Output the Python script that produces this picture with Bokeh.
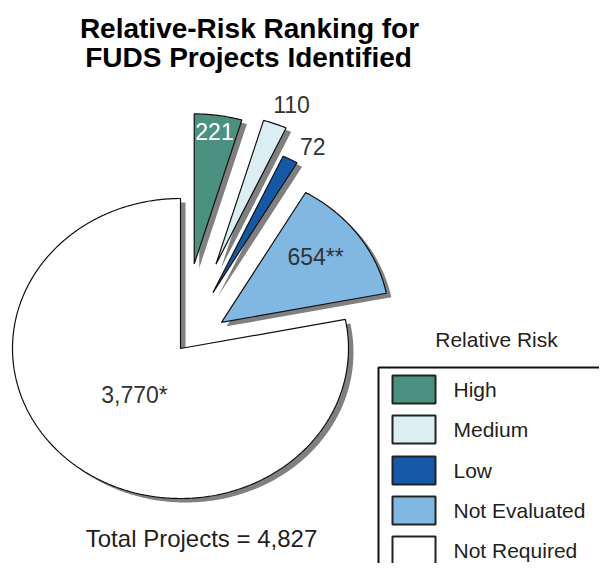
import numpy as np
from bokeh.plotting import figure
from bokeh.models import Range1d
from bokeh.core.properties import value
from bokeh.embed import file_html
from bokeh.resources import INLINE

# ---- data ----
categories = ["High", "Medium", "Low", "Not Evaluated", "Not Required"]
counts = [221, 110, 72, 654, 3770]
label_suffix = ["", "", "", "**", "*"]
colors = ["#4a9180", "#daeef3", "#1558a8", "#80b8e1", "#ffffff"]
title_lines = ["Relative-Risk Ranking for", "FUDS Projects Identified"]
legend_title = "Relative Risk"

# ---- layout constants ----
CX, CY, RX, RY = 180.0, 348.0, 168.0, 150.0
explode = [0.57, 0.60, 0.42, 0.30, 0.0]
label_ang = [82.2, 67.1, 58.6, 37.7, 228.8]
label_frac = [0.89, 1.156, 1.14, 0.708, 0.416]
label_color = ["#ffffff", "#333333", "#333333", "#333333", "#333333"]
FONT = value("Liberation Sans")

p = figure(width=599, height=563, x_range=Range1d(0, 599), y_range=Range1d(563, 0),
           output_backend="svg", toolbar_location=None,
           x_axis_location=None, y_axis_location=None, min_border=0)
p.grid.visible = False
p.outline_line_color = None
p.background_fill_color = "white"

total = sum(counts)
angles = np.array(counts) / total * 360.0
starts = 90.0 - np.concatenate([[0], np.cumsum(angles)[:-1]])
ends = starts - angles

xs, ys, sxs, sys_ = [], [], [], []
apexes = []
for i in range(len(counts)):
    a0, a1 = starts[i], ends[i]
    m = np.radians((a0 + a1) / 2)
    ox = CX + explode[i] * RX * np.cos(m)
    oy = CY - explode[i] * RY * np.sin(m)
    apexes.append((ox, oy))
    t = np.radians(np.linspace(a0, a1, max(8, int(abs(a1 - a0) * 2))))
    px = np.concatenate([[ox], ox + RX * np.cos(t)])
    py = np.concatenate([[oy], oy - RY * np.sin(t)])
    xs.append(px.tolist()); ys.append(py.tolist())
    sxs.append((px + 5).tolist()); sys_.append((py + 4).tolist())

# shadows then slices
p.patches(sxs, sys_, fill_color="#808080", line_color=None)
p.patches(xs, ys, fill_color=colors, line_color="#111111", line_width=1.2)

# slice labels
lx, ly, lt = [], [], []
for i in range(len(counts)):
    ox, oy = apexes[i]
    a = np.radians(label_ang[i])
    lx.append(ox + label_frac[i] * RX * np.cos(a))
    ly.append(oy - label_frac[i] * RY * np.sin(a))
    lt.append(f"{counts[i]:,}{label_suffix[i]}")
p.text(lx, ly, text=lt, text_color=label_color, text_font=FONT, text_font_size="23px",
       text_align="center", text_baseline="middle")

# title
p.text([249, 248], [28, 57], text=title_lines, text_font=FONT, text_font_size="28px",
       text_font_style="bold", text_color="#000000", text_align="center", text_baseline="middle")

# total
p.text([201], [538], text=[f"Total Projects = {total:,}"], text_font=FONT, text_font_size="24px",
       text_color="#231f20", text_align="center", text_baseline="middle")

# legend
p.text([496], [339], text=[legend_title], text_font=FONT, text_font_size="21px",
       text_color="#231f20", text_align="center", text_baseline="middle")
p.quad(left=[378], right=[700], top=[367], bottom=[700], fill_color=None,
       line_color="#111111", line_width=2)
sw_y = [389, 429, 470, 510, 550]
p.rect([413.5] * 5, sw_y, width=43, height=28, fill_color=colors,
       line_color="#222222", line_width=2)
p.text([453] * 5, sw_y, text=categories, text_font=FONT, text_font_size="21px",
       text_color="#231f20", text_align="left", text_baseline="middle")

open("out.html", "w").write(file_html(p, INLINE))
